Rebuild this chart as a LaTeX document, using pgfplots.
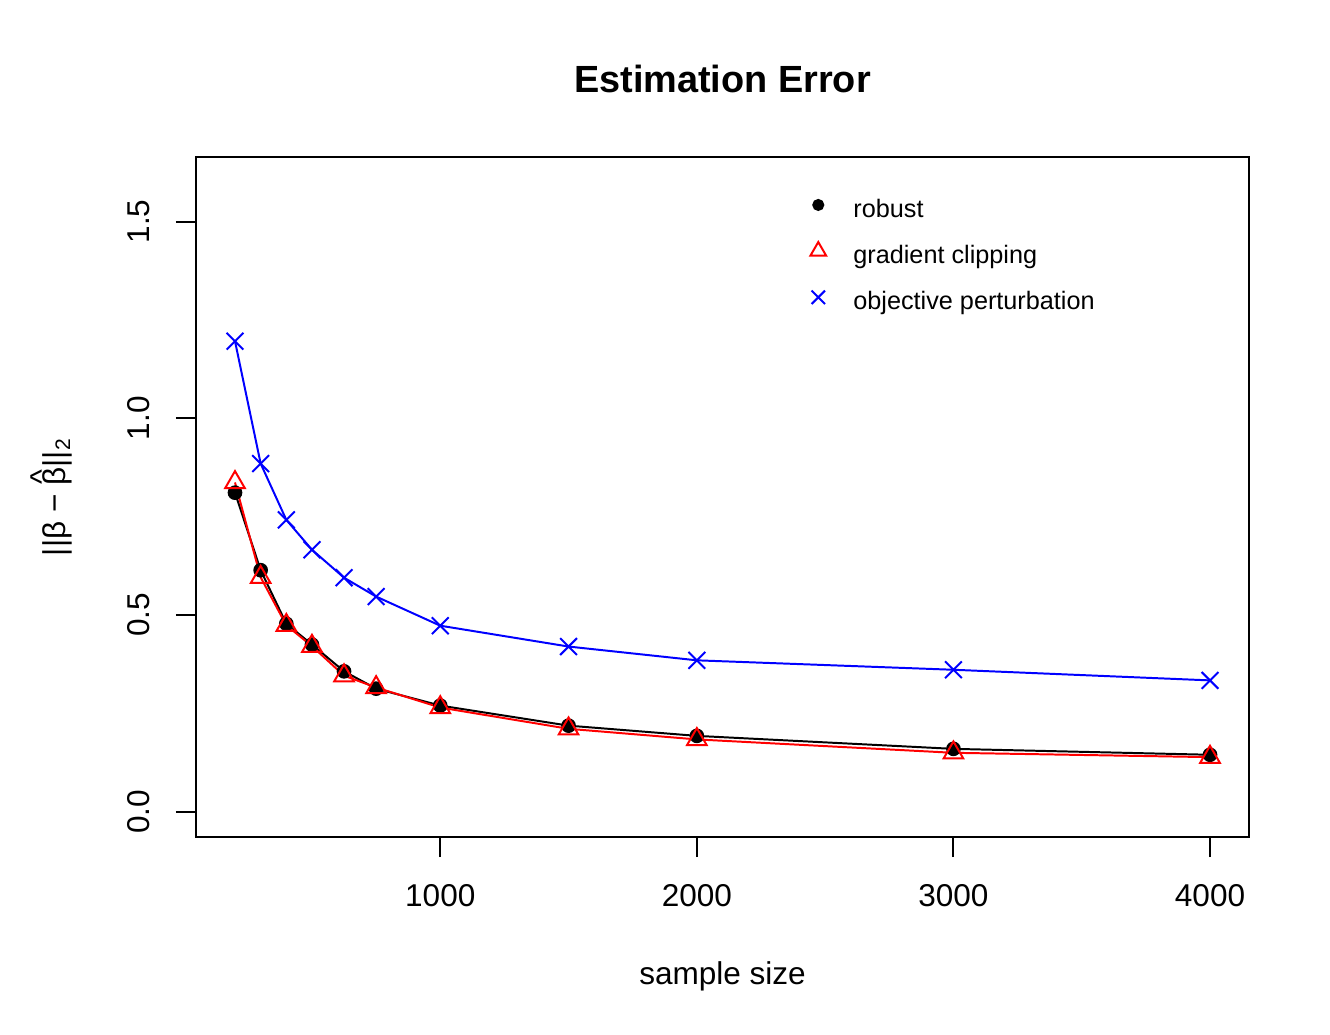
\documentclass[border=0pt]{standalone}
\usepackage{fontspec}
\setmainfont{Liberation Sans}
\usepackage{pgfplots}
\pgfplotsset{compat=1.18}
\usepackage{pgfplotstable}
\pgfplotstableread{
x robust gc op
200  0.811 0.837 1.196
300  0.614 0.596 0.885
400  0.478 0.474 0.742
500  0.425 0.421 0.666
625  0.357 0.346 0.595
750  0.313 0.316 0.547
1000 0.270 0.265 0.473
1500 0.219 0.211 0.420
2000 0.193 0.184 0.385
3000 0.160 0.150 0.361
4000 0.145 0.139 0.334
}\datatable
\begin{document}
\begin{tikzpicture}[x=1bp,y=1bp]
\path[use as bounding box] (0,0) rectangle (504,391.83);
\begin{axis}[
  at={(74.27bp,74.65bp)}, anchor=south west,
  scale only axis, width=399.03bp, height=257.68bp,
  xmin=48, xmax=4152, ymin=-0.064, ymax=1.664,
  axis line style={line width=0.75bp},
  every tick/.style={line width=0.75bp, black},
  tick align=outside, major tick length=7.58bp,
  xtick pos=bottom, ytick pos=left,
  xtick={1000,2000,3000,4000}, xticklabels={1000,2000,3000,4000},
  ytick={0,0.5,1,1.5}, yticklabels={0.0,0.5,1.0,1.5},
  tick label style={font=\fontsize{12}{14.4}\selectfont},
  xticklabel style={anchor=base, yshift=-18.8bp},
  yticklabel style={rotate=90, anchor=base, yshift=10.2bp},
  legend style={draw=none, fill=none, at={(axis cs:2391,1.575)}, anchor=north west,
    inner sep=0pt, outer sep=0pt, row sep=6bp, column sep=5.3bp,
    nodes={inner sep=0pt, text height=7bp, text depth=2bp},
    font=\fontsize{9.6}{11.5}\selectfont},
  legend cell align=left,
  legend image code/.code={\path[draw=none,fill=none] (-8bp,-1bp) rectangle (8bp,7bp);\draw[#1] plot coordinates {(0bp,2.1bp)};},
]
\addplot[black, line width=0.75bp, mark=*, mark size=2.4bp, mark options={solid}, forget plot] table[x=x,y=robust] {\datatable};
\addplot[red, line width=0.75bp, mark=triangle, mark size=4.3bp, forget plot] table[x=x,y=gc] {\datatable};
\addplot[blue, line width=0.75bp, mark=x, mark size=4.5bp, forget plot] table[x=x,y=op] {\datatable};
\addlegendimage{only marks, black, mark=*, mark size=1.9bp, line width=0.75bp}
\addlegendentry{robust}
\addlegendimage{only marks, red, mark=triangle, mark size=3.45bp, line width=0.75bp}
\addlegendentry{gradient clipping}
\addlegendimage{only marks, blue, mark=x, mark size=3.6bp, line width=0.75bp}
\addlegendentry{objective perturbation}
\end{axis}
\node[anchor=base, font=\fontsize{14.4}{17}\selectfont\bfseries] at (273.8,356.6) {Estimation Error};
\node[anchor=base, font=\fontsize{12}{14.4}\selectfont] at (273.8,18.6) {sample size};
\node[anchor=base, rotate=90, font=\fontsize{12}{14.4}\selectfont] at (24.8,203.5)
  {||β − \makebox[0pt][l]{\hspace{0.04em}\raisebox{0.42em}{\^{}}}β||\textsubscript{2}};
\end{tikzpicture}
\end{document}
